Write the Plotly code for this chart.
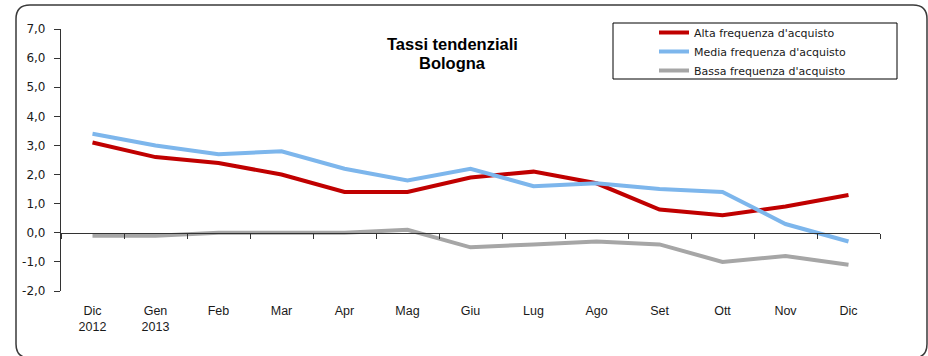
import plotly.graph_objects as go

# Months on the x axis (unique keys) and the labels shown under them
MONTHS = ["Dic 2012", "Gen 2013", "Feb", "Mar", "Apr", "Mag", "Giu",
          "Lug", "Ago", "Set", "Ott", "Nov", "Dic 2013"]
MONTH_LABELS = ["Dic<br>2012", "Gen<br>2013", "Feb", "Mar", "Apr", "Mag", "Giu",
                "Lug", "Ago", "Set", "Ott", "Nov", "Dic"]

# Year-on-year rates by purchase frequency (%)
ALTA = [3.1, 2.6, 2.4, 2.0, 1.4, 1.4, 1.9, 2.1, 1.7, 0.8, 0.6, 0.9, 1.3]
MEDIA = [3.4, 3.0, 2.7, 2.8, 2.2, 1.8, 2.2, 1.6, 1.7, 1.5, 1.4, 0.3, -0.3]
BASSA = [-0.1, -0.1, 0.0, 0.0, 0.0, 0.1, -0.5, -0.4, -0.3, -0.4, -1.0, -0.8, -1.1]

SERIES_NAMES = ["Alta frequenza d'acquisto", "Media frequenza d'acquisto",
                "Bassa frequenza d'acquisto"]
SERIES_COLORS = ["#C00000", "#7DB6EC", "#A6A6A6"]

Y_TICKS = [-2.0, -1.0, 0.0, 1.0, 2.0, 3.0, 4.0, 5.0, 6.0, 7.0]
Y_TICK_TEXT = [f"{v:.1f}".replace(".", ",") for v in Y_TICKS]

TITLE_LINES = ["Tassi tendenziali", "Bologna"]

W, H = 928, 356
ML, MR, MT, MB = 61, 48, 29, 65
PW, PH = W - ML - MR, H - MT - MB

FONT = "Liberation Sans, Arial, sans-serif"
WIDE = "DejaVu Sans, Verdana, sans-serif"


def px(x):
    return (x - ML) / PW


def py(y):
    return (H - MB - y) / PH


fig = go.Figure()
# the low-frequency series sits on the overlaid zero axis (same categories/range)
for name, vals, color, xa in zip(SERIES_NAMES, [ALTA, MEDIA, BASSA],
                                 SERIES_COLORS, ["x", "x", "x2"]):
    fig.add_trace(go.Scatter(x=MONTHS, y=vals, name=name, mode="lines",
                             xaxis=xa, yaxis="y",
                             line=dict(color=color, width=4)))

# Rounded outer frame
fx0, fx1, fy0, fy1, r = 16, 927, 5, 358, 14
rx, ry = r / PW, r / PH
X0, X1, Y0, Y1 = px(fx0), px(fx1), py(fy1), py(fy0)
frame_path = (f"M {X0+rx},{Y1} L {X1-rx},{Y1} Q {X1},{Y1} {X1},{Y1-ry} "
              f"L {X1},{Y0+ry} Q {X1},{Y0} {X1-rx},{Y0} "
              f"L {X0+rx},{Y0} Q {X0},{Y0} {X0},{Y0+ry} "
              f"L {X0},{Y1-ry} Q {X0},{Y1} {X0+rx},{Y1} Z")

shapes = [
    dict(type="path", xref="paper", yref="paper", path=frame_path,
         line=dict(color="#3a3a3a", width=1.5), layer="below"),
    # legend box
    dict(type="rect", xref="paper", yref="paper",
         x0=px(613), x1=px(897), y0=py(79), y1=py(23),
         line=dict(color="#000000", width=1), layer="below"),
]

annotations = [
    dict(text=f"<b>{line}</b>", xref="paper", yref="paper",
         x=px(452), y=py(yc), xanchor="center", yanchor="middle",
         showarrow=False, font=dict(family=FONT, size=16.5, color="#000000"))
    for line, yc in zip(TITLE_LINES, [44, 63])
]

fig.update_layout(
    width=W, height=H,
    margin=dict(l=ML, r=MR, t=MT, b=MB, autoexpand=False),
    paper_bgcolor="white", plot_bgcolor="white",
    font=dict(family=FONT, size=12, color="#1a1a1a"),
    showlegend=True,
    legend=dict(x=px(654), y=py(18), xanchor="left", yanchor="top",
                bgcolor="rgba(0,0,0,0)", borderwidth=0,
                font=dict(family=WIDE, size=11, color="#1a1a1a"),
                tracegroupgap=0, itemwidth=30),
    shapes=shapes,
    annotations=annotations,
    xaxis=dict(type="category", categoryorder="array", categoryarray=MONTHS,
               range=[-0.5, len(MONTHS) - 0.5],
               tickvals=MONTHS, ticktext=MONTH_LABELS,
               showline=False, showgrid=False, zeroline=False,
               ticks="outside", ticklen=8, tickcolor="rgba(0,0,0,0)",
               tickfont=dict(family=FONT, size=12.5, color="#1a1a1a"),
               automargin=False),
    # horizontal axis line at zero with ticks between months
    xaxis2=dict(type="category", categoryorder="array", categoryarray=MONTHS,
                overlaying="x", anchor="free", position=py(232.5), side="bottom",
                range=[-0.5, len(MONTHS) - 0.5], tickson="boundaries",
                showline=True, linecolor="#333333", linewidth=1.2,
                ticks="outside", ticklen=5, tickcolor="#333333", tickwidth=1.2,
                showticklabels=False, showgrid=False, zeroline=False),
    yaxis=dict(range=[-2, 7], tickvals=Y_TICKS, ticktext=Y_TICK_TEXT,
               showline=True, linecolor="#333333", linewidth=1.2,
               ticks="outside", ticklen=6, tickcolor="#333333", tickwidth=1.2,
               ticklabelstandoff=6,
               showgrid=False, zeroline=False,
               tickfont=dict(family=WIDE, size=12, color="#1a1a1a"),
               automargin=False),
)

fig.write_html("out.html")
